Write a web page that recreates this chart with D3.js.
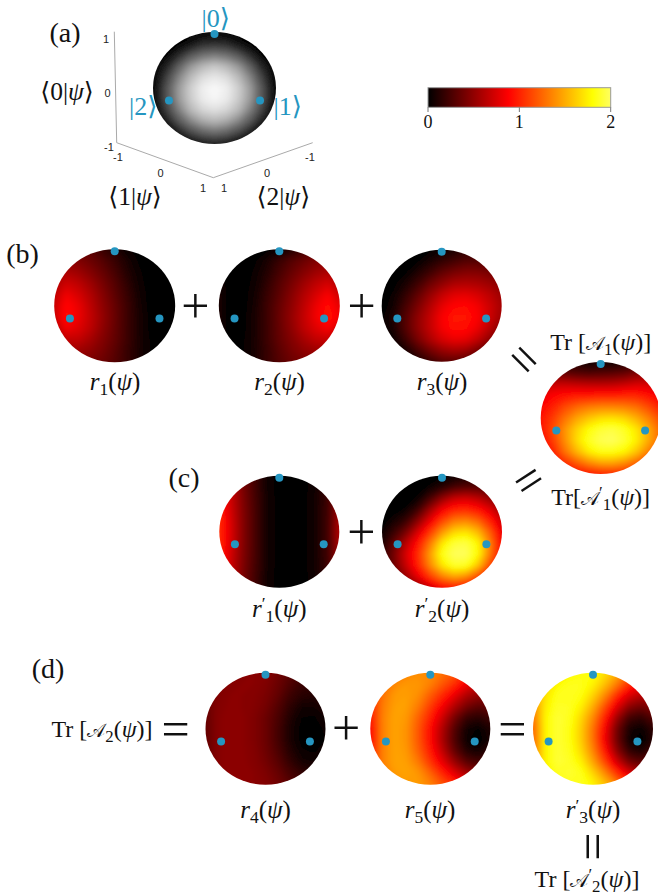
<!DOCTYPE html>
<html><head><meta charset="utf-8">
<script src="https://cdn.jsdelivr.net/npm/d3@7"></script>
<style>html,body{margin:0;padding:0;background:#fff}svg{display:block}</style>
</head><body><div id="c"></div>
<script>
// Estimated sphere values, rows top to bottom, columns left to right (11 x 11)
const shade = [
[0,0,0,0,0,0,0,0,0,0,0],
[0,0,0,0.12,0.28,0.31,0.28,0.12,0,0,0],
[0,0,0.26,0.47,0.58,0.62,0.58,0.47,0.26,0,0],
[0,0.21,0.5,0.7,0.8,0.85,0.8,0.7,0.5,0.21,0],
[0,0.36,0.64,0.81,0.91,0.94,0.91,0.81,0.64,0.36,0],
[0.05,0.45,0.71,0.87,0.96,0.99,0.96,0.87,0.71,0.45,0.05],
[0.04,0.44,0.7,0.86,0.95,0.98,0.95,0.86,0.7,0.44,0.04],
[0,0.35,0.62,0.8,0.89,0.92,0.89,0.8,0.62,0.35,0],
[0,0.17,0.47,0.65,0.76,0.8,0.76,0.65,0.47,0.17,0],
[0,0,0.19,0.41,0.53,0.58,0.53,0.41,0.19,0,0],
[0,0,0,0.05,0.19,0.23,0.19,0.05,0,0,0]];
const r1 = [
[.3,.36,.35,.3,.2,.12,.05,.02,0,0,0],
[.42,.48,.45,.38,.3,.2,.1,.03,0,0,0],
[.5,.6,.55,.46,.36,.25,.13,.05,0,0,0],
[.6,.72,.66,.55,.42,.3,.17,.06,.01,0,0],
[.66,.84,.75,.62,.47,.33,.2,.08,.01,0,0],
[.7,.92,.82,.66,.5,.36,.22,.09,.01,0,0],
[.7,.95,.83,.68,.52,.37,.22,.1,.02,0,0],
[.62,.85,.78,.66,.5,.36,.22,.1,.02,0,0],
[.5,.68,.68,.58,.46,.35,.22,.1,.03,0,0],
[.42,.52,.55,.5,.42,.32,.2,.1,.03,0,0],
[.38,.42,.45,.42,.38,.3,.2,.1,.03,0,0]];
const r2 = [
[.05,0,0,0,.02,.05,.12,.2,.3,.36,.3],
[.05,0,0,.03,.1,.2,.3,.38,.45,.48,.42],
[.05,0,0,.05,.13,.25,.36,.46,.55,.6,.5],
[.08,0,.01,.06,.17,.3,.42,.55,.66,.74,.62],
[.1,0,.01,.08,.2,.33,.47,.62,.75,.87,.72],
[.1,0,.01,.09,.22,.36,.5,.66,.82,.94,.8],
[.1,0,.02,.1,.22,.37,.52,.68,.84,.97,.85],
[.1,0,.02,.1,.22,.36,.5,.66,.78,.87,.72],
[.08,0,.03,.1,.22,.35,.46,.58,.68,.7,.55],
[.05,0,.03,.1,.2,.32,.42,.5,.55,.52,.42],
[.05,0,.03,.1,.2,.3,.38,.42,.45,.42,.38]];
const r3 = [
[0,0,0,0,.02,.05,.1,.15,.15,.1,.1],
[0,0,0,.03,.1,.18,.24,.3,.3,.28,.25],
[0,0,.03,.12,.22,.34,.42,.46,.46,.42,.36],
[0,.02,.1,.22,.38,.5,.6,.62,.6,.55,.48],
[0,.05,.18,.34,.52,.68,.78,.8,.75,.66,.55],
[0,.08,.25,.43,.62,.8,.9,.92,.85,.72,.58],
[.02,.12,.3,.5,.68,.87,.97,.97,.88,.72,.55],
[.02,.1,.3,.5,.68,.85,.95,.93,.82,.65,.45],
[0,.05,.22,.42,.6,.75,.82,.8,.68,.5,.3],
[0,0,.1,.25,.4,.52,.58,.55,.42,.25,.1],
[0,0,0,.1,.2,.3,.32,.28,.2,.1,0]];
const a1 = [
[.1,.1,.1,.1,.05,.05,.05,.1,.15,.2,.2],
[.5,.4,.35,.3,.28,.3,.32,.36,.45,.5,.5],
[.7,.7,.7,.68,.66,.65,.66,.7,.75,.75,.7],
[.8,.9,.95,.98,.98,1.0,1.0,1.02,1.02,.95,.85],
[.9,1.0,1.15,1.26,1.33,1.36,1.36,1.34,1.28,1.15,1.0],
[.95,1.1,1.3,1.48,1.6,1.68,1.7,1.65,1.52,1.35,1.15],
[.95,1.15,1.42,1.65,1.82,1.92,1.95,1.88,1.72,1.5,1.25],
[.9,1.1,1.4,1.68,1.88,1.98,2.0,1.92,1.75,1.5,1.25],
[.85,1.0,1.3,1.55,1.75,1.85,1.85,1.78,1.6,1.35,1.05],
[.8,.9,1.05,1.22,1.38,1.48,1.48,1.4,1.25,1.05,.9],
[.8,.8,.85,.9,.95,1.0,1.02,1.0,.95,.85,.8]];
const rp1 = [
[.95,.65,.4,.22,.06,.02,0,.02,.06,.18,.4],
[.98,.68,.42,.23,.06,.02,0,.02,.07,.2,.48],
[1.0,.7,.44,.24,.07,.02,0,.02,.08,.21,.52],
[1.02,.72,.45,.25,.07,.02,0,.02,.08,.22,.56],
[1.05,.74,.46,.25,.07,.02,0,.02,.08,.22,.6],
[1.05,.75,.46,.25,.07,.02,0,.02,.08,.22,.62],
[1.05,.74,.46,.25,.07,.02,0,.02,.08,.22,.6],
[1.02,.72,.45,.25,.07,.02,0,.02,.08,.22,.56],
[1.0,.7,.44,.24,.07,.02,0,.02,.08,.21,.52],
[.98,.68,.42,.23,.06,.02,0,.02,.07,.2,.48],
[.95,.65,.4,.22,.06,.02,0,.02,.06,.18,.4]];
const rp2 = [
[0,0,0,0,0,.02,.05,.08,.1,.1,.1],
[0,0,0,0,.05,.14,.25,.3,.3,.25,.2],
[0,0,0,.05,.25,.5,.68,.72,.65,.52,.4],
[0,0,.05,.22,.55,.85,1.0,1.02,.95,.78,.55],
[0,.08,.2,.48,.82,1.12,1.32,1.36,1.25,1.0,.72],
[.05,.2,.42,.75,1.08,1.42,1.65,1.7,1.55,1.22,.82],
[.1,.35,.65,.95,1.32,1.72,1.92,1.95,1.78,1.35,.88],
[.15,.42,.75,1.05,1.45,1.85,2.0,2.0,1.8,1.32,.88],
[.15,.4,.7,1.0,1.38,1.72,1.9,1.88,1.6,1.15,.72],
[.1,.3,.55,.82,1.1,1.35,1.48,1.4,1.15,.82,.5],
[.1,.2,.35,.5,.7,.88,.95,.9,.75,.5,.3]];
const r4 = [
[.4,.42,.45,.47,.48,.47,.4,.32,.25,.2,.18],
[.4,.44,.47,.48,.48,.45,.38,.28,.2,.18,.18],
[.38,.45,.48,.48,.47,.43,.35,.22,.15,.13,.15],
[.36,.46,.49,.48,.46,.41,.3,.17,.08,.08,.12],
[.35,.47,.5,.49,.45,.38,.27,.13,.04,.03,.08],
[.34,.47,.5,.49,.45,.38,.25,.1,.02,.01,.05],
[.34,.47,.5,.49,.45,.38,.25,.11,.02,0,.04],
[.34,.47,.5,.49,.46,.39,.28,.14,.05,.03,.07],
[.36,.47,.5,.49,.47,.41,.32,.19,.1,.08,.1],
[.38,.46,.49,.49,.48,.44,.37,.26,.18,.15,.15],
[.4,.45,.47,.48,.48,.46,.4,.32,.25,.2,.2]];
const r5 = [
[1.0,1.15,1.25,1.35,1.4,1.38,1.3,1.2,1.0,.85,.8],
[1.05,1.25,1.38,1.44,1.43,1.35,1.2,1.05,.85,.7,.7],
[1.05,1.3,1.44,1.46,1.4,1.22,1.03,.82,.62,.52,.5],
[1.0,1.33,1.46,1.46,1.33,1.1,.86,.62,.42,.32,.35],
[.95,1.35,1.48,1.44,1.24,1.0,.72,.42,.2,.15,.22],
[.9,1.35,1.48,1.42,1.2,.92,.62,.3,.08,.03,.12],
[.9,1.35,1.48,1.42,1.2,.92,.6,.28,.05,0,.1],
[.95,1.35,1.48,1.44,1.24,.98,.68,.36,.14,.08,.18],
[1.0,1.35,1.48,1.46,1.33,1.08,.82,.55,.33,.25,.3],
[1.05,1.3,1.44,1.48,1.43,1.25,1.02,.8,.6,.48,.5],
[1.1,1.25,1.35,1.44,1.45,1.36,1.2,1.05,.85,.7,.7]];
const rp3 = [
[1.4,1.52,1.65,1.77,1.83,1.82,1.7,1.52,1.25,1.05,1],
[1.45,1.64,1.79,1.86,1.86,1.77,1.58,1.33,1.05,.88,.88],
[1.43,1.7,1.86,1.88,1.83,1.65,1.38,1.04,.77,.65,.65],
[1.36,1.74,1.89,1.88,1.76,1.51,1.16,.79,.5,.4,.47],
[1.3,1.77,1.92,1.87,1.67,1.38,.99,.55,.24,.18,.3],
[1.24,1.77,1.92,1.85,1.63,1.3,.87,.4,.1,.04,.17],
[1.24,1.77,1.92,1.85,1.63,1.3,.85,.39,.07,0,.14],
[1.29,1.77,1.92,1.87,1.68,1.37,.96,.5,.19,.11,.25],
[1.36,1.77,1.92,1.89,1.77,1.49,1.14,.74,.43,.33,.4],
[1.43,1.71,1.87,1.91,1.86,1.66,1.39,1.06,.78,.63,.65],
[1.5,1.65,1.77,1.86,1.88,1.78,1.6,1.37,1.1,.9,.9]];

const colorbarTicks = [0, 1, 2];
const axisTicks = [-1, 0, 1];
const stateNames = ["|0⟩", "|1⟩", "|2⟩"];

// Layout
const W = 658, H = 896;
const spheres = [
  {d: shade, cx: 214.5, cy: 88,    rx: 61.5, ry: 56,   gray: true},
  {d: r1,  cx: 114.7, cy: 305.7, rx: 60.5, ry: 56.5},
  {d: r2,  cx: 279.3, cy: 305.7, rx: 60.5, ry: 56.5},
  {d: r3,  cx: 441.7, cy: 305.8, rx: 60,   ry: 56},
  {d: a1,  cx: 600.7, cy: 418,   rx: 60,   ry: 56},
  {d: rp1, cx: 279.3, cy: 531.7, rx: 60,   ry: 56},
  {d: rp2, cx: 442,   cy: 531.7, rx: 60,   ry: 56},
  {d: r4,  cx: 265.5, cy: 728.8, rx: 60,   ry: 56},
  {d: r5,  cx: 430.3, cy: 728.8, rx: 60,   ry: 56},
  {d: rp3, cx: 593,   cy: 728.8, rx: 60,   ry: 56}
];
const hot = d3.scaleLinear().domain([0, .88, 1.8, 2]).range(["#000000", "#ff0000", "#ffff00", "#ffff60"]).clamp(true);
const grayC = d3.scaleLinear().domain([0, .3, .6, .85, 1]).range(["#000000", "#2e2e2e", "#737373", "#c7c7c7", "#ffffff"]).clamp(true);
const levels = d3.range(0, 2.001, 0.02);
const grayLevels = d3.range(0, 1.001, 0.01);
const dotColor = "#2596c1", serif = "'Liberation Serif','DejaVu Serif',serif";

const svg = d3.select("#c").append("svg").attr("width", W).attr("height", H).attr("viewBox", `0 0 ${W} ${H}`);
const defs = svg.append("defs");
defs.append("filter").attr("id", "soft").attr("x", "-10%").attr("y", "-10%").attr("width", "120%").attr("height", "120%")
  .append("feGaussianBlur").attr("stdDeviation", 2.5).attr("edgeMode", "duplicate");

// Spheres
spheres.forEach((s, k) => {
  defs.append("clipPath").attr("id", "cl" + k).append("ellipse")
    .attr("cx", s.cx).attr("cy", s.cy).attr("rx", s.rx).attr("ry", s.ry);
  const n = s.d.length;
  const sx = d3.scaleLinear().domain([.5, n - .5]).range([s.cx - s.rx, s.cx + s.rx]);
  const sy = d3.scaleLinear().domain([.5, n - .5]).range([s.cy - s.ry, s.cy + s.ry]);
  const path = d3.geoPath(d3.geoTransform({point(x, y) { this.stream.point(sx(x), sy(y)); }}));
  const g = svg.append("g").attr("clip-path", `url(#cl${k})`).append("g").attr("filter", "url(#soft)");
  const conts = d3.contours().size([n, n]).thresholds(s.gray ? grayLevels : levels)(s.d.flat());
  g.selectAll("path").data(conts.filter(c => c.coordinates.length)).join("path")
    .attr("d", path).attr("fill", c => (s.gray ? grayC : hot)(c.value));
  const dots = [[0, -.965], [-.74, .225], [.74, .225]];
  svg.append("g").selectAll("circle").data(dots).join("circle")
    .attr("cx", p => s.cx + p[0] * s.rx).attr("cy", p => s.cy + p[1] * s.ry)
    .attr("r", 4).attr("fill", dotColor);
});

// Math text helper: segments are [text, kind]
function label(x, y, segs, size, color, anchor) {
  const t = svg.append("text").attr("x", x).attr("y", y).attr("font-family", serif)
    .attr("font-size", size).attr("fill", color || "#111").attr("text-anchor", anchor || "middle");
  let shift = 0;
  segs.forEach(([txt, kind]) => {
    const sp = t.append("tspan").text(txt);
    let target = 0;
    if (kind === "i") sp.attr("font-style", "italic");
    if (kind === "script") sp.attr("font-size", size * .8);
    if (kind === "sub") { sp.attr("font-size", size * .7); target = size * .2; }
    if (kind === "sup") { sp.attr("font-size", size * .7); target = -size * .3; }
    if (target !== shift) { sp.attr("dy", target - shift); shift = target; }
  });
  return t;
}
const psi = [["(", ""], ["ψ", "i"], [")", ""]];
const ket = v => [["⟨" + v + "|", ""], ["ψ", "i"], ["⟩", ""]];

// Panel letters
[["(a)", 65, 42], ["(b)", 22.5, 263], ["(c)", 184, 487], ["(d)", 48, 678]].forEach(d =>
  label(d[1], d[2], [[d[0], ""]], 28));

// Sphere labels
const sl = (x, y, sub, prime) => label(x, y, [["r", "i"], ...(prime ? [["′", "sup"]] : []), [sub, "sub"], ...psi], 25);
sl(115, 390, "1"); sl(279.5, 390, "2"); sl(442, 390, "3");
sl(279.3, 616.7, "1", true); sl(442, 616.7, "2", true);
sl(265.5, 818.3, "4"); sl(430, 818.3, "5"); sl(593, 818.3, "3", true);

const A = "𝒜";
const tr = (x, y, sub, prime, gap) => label(x, y, [["Tr" + (gap ? " [" : "["), ""], [A, "script"], ...(prime ? [["′", "sup"]] : []), [sub, "sub"], ...psi, ["]", ""]], 24);
tr(600.7, 350, "1", false, true);
tr(600.7, 505, "1", true, false);
tr(102, 737.3, "2", false, true);
tr(587, 886.7, "2", true, true);

// Operators
const op = (x, y, ch, size, rot) => label(0, 0, [[ch, ""]], size).attr("dominant-baseline", "central")
  .attr("transform", `translate(${x},${y}) rotate(${rot || 0})`);
[[195.3, 306], [361.7, 305.7], [361.3, 531.7], [346, 728.3]].forEach(p => op(p[0], p[1], "+", 50));
[[512.3, 728.7, 0], [175.7, 728.7, 0], [524.3, 359.3, 45], [528.3, 480, -33], [592.7, 846.7, 90]]
  .forEach(p => op(p[0], p[1], "=", 50, p[2]));

// Panel (a) state names and overlap labels
label(215.7, 27, [[stateNames[0], ""]], 26, dotColor);
label(287.7, 115, [[stateNames[1], ""]], 26, dotColor);
label(143.3, 115, [[stateNames[2], ""]], 26, dotColor);
label(67, 100, ket("0"), 25.5);
label(135, 205, ket("1"), 25.5);
label(283.3, 205, ket("2"), 25.5);

// Panel (a) axes
const axes = [
  {x: [116.7, 114.3], y: [142.7, 31.7], lx: [109, 106], ly: [147, 39]},
  {x: [116.7, 213.3], y: [142.7, 177.7], lx: [118, 203], ly: [157, 188]},
  {x: [312.7, 213.3], y: [142.7, 177.7], lx: [310, 224], ly: [157, 188]}
];
axes.forEach(a => {
  const px = d3.scaleLinear().domain([-1, 1]).range(a.x), py = d3.scaleLinear().domain([-1, 1]).range(a.y);
  const lx = d3.scaleLinear().domain([-1, 1]).range(a.lx), ly = d3.scaleLinear().domain([-1, 1]).range(a.ly);
  svg.append("line").attr("x1", px(-1)).attr("y1", py(-1)).attr("x2", px(1)).attr("y2", py(1))
    .attr("stroke", "#aaa").attr("stroke-width", 1);
  svg.append("g").selectAll("text").data(axisTicks).join("text")
    .attr("x", lx).attr("y", ly).attr("text-anchor", "middle").attr("dominant-baseline", "central")
    .attr("font-family", "'Liberation Sans',sans-serif").attr("font-size", 11).attr("fill", "#222")
    .text(d => d);
});

// Colorbar
const cbX = d3.scaleLinear().domain([0, 2]).range([428, 610.7]);
const cbTop = 87.7, cbH = 19.6;
const grad = defs.append("linearGradient").attr("id", "cb");
grad.selectAll("stop").data(hot.domain()).join("stop")
  .attr("offset", d => d / 2).attr("stop-color", d => hot(d));
svg.append("rect").attr("x", cbX(0)).attr("y", cbTop).attr("width", cbX(2) - cbX(0)).attr("height", cbH)
  .attr("fill", "url(#cb)").attr("stroke", "#999").attr("stroke-width", 1);
const tk = svg.append("g").selectAll("g").data(colorbarTicks).join("g");
tk.append("line").attr("x1", cbX).attr("x2", cbX).attr("y1", cbTop + cbH).attr("y2", 112).attr("stroke", "#777");
tk.append("text").attr("x", cbX).attr("y", 128).attr("text-anchor", "middle")
  .attr("font-family", serif).attr("font-size", 18).attr("fill", "#111").text(d => d);
</script></body></html>
